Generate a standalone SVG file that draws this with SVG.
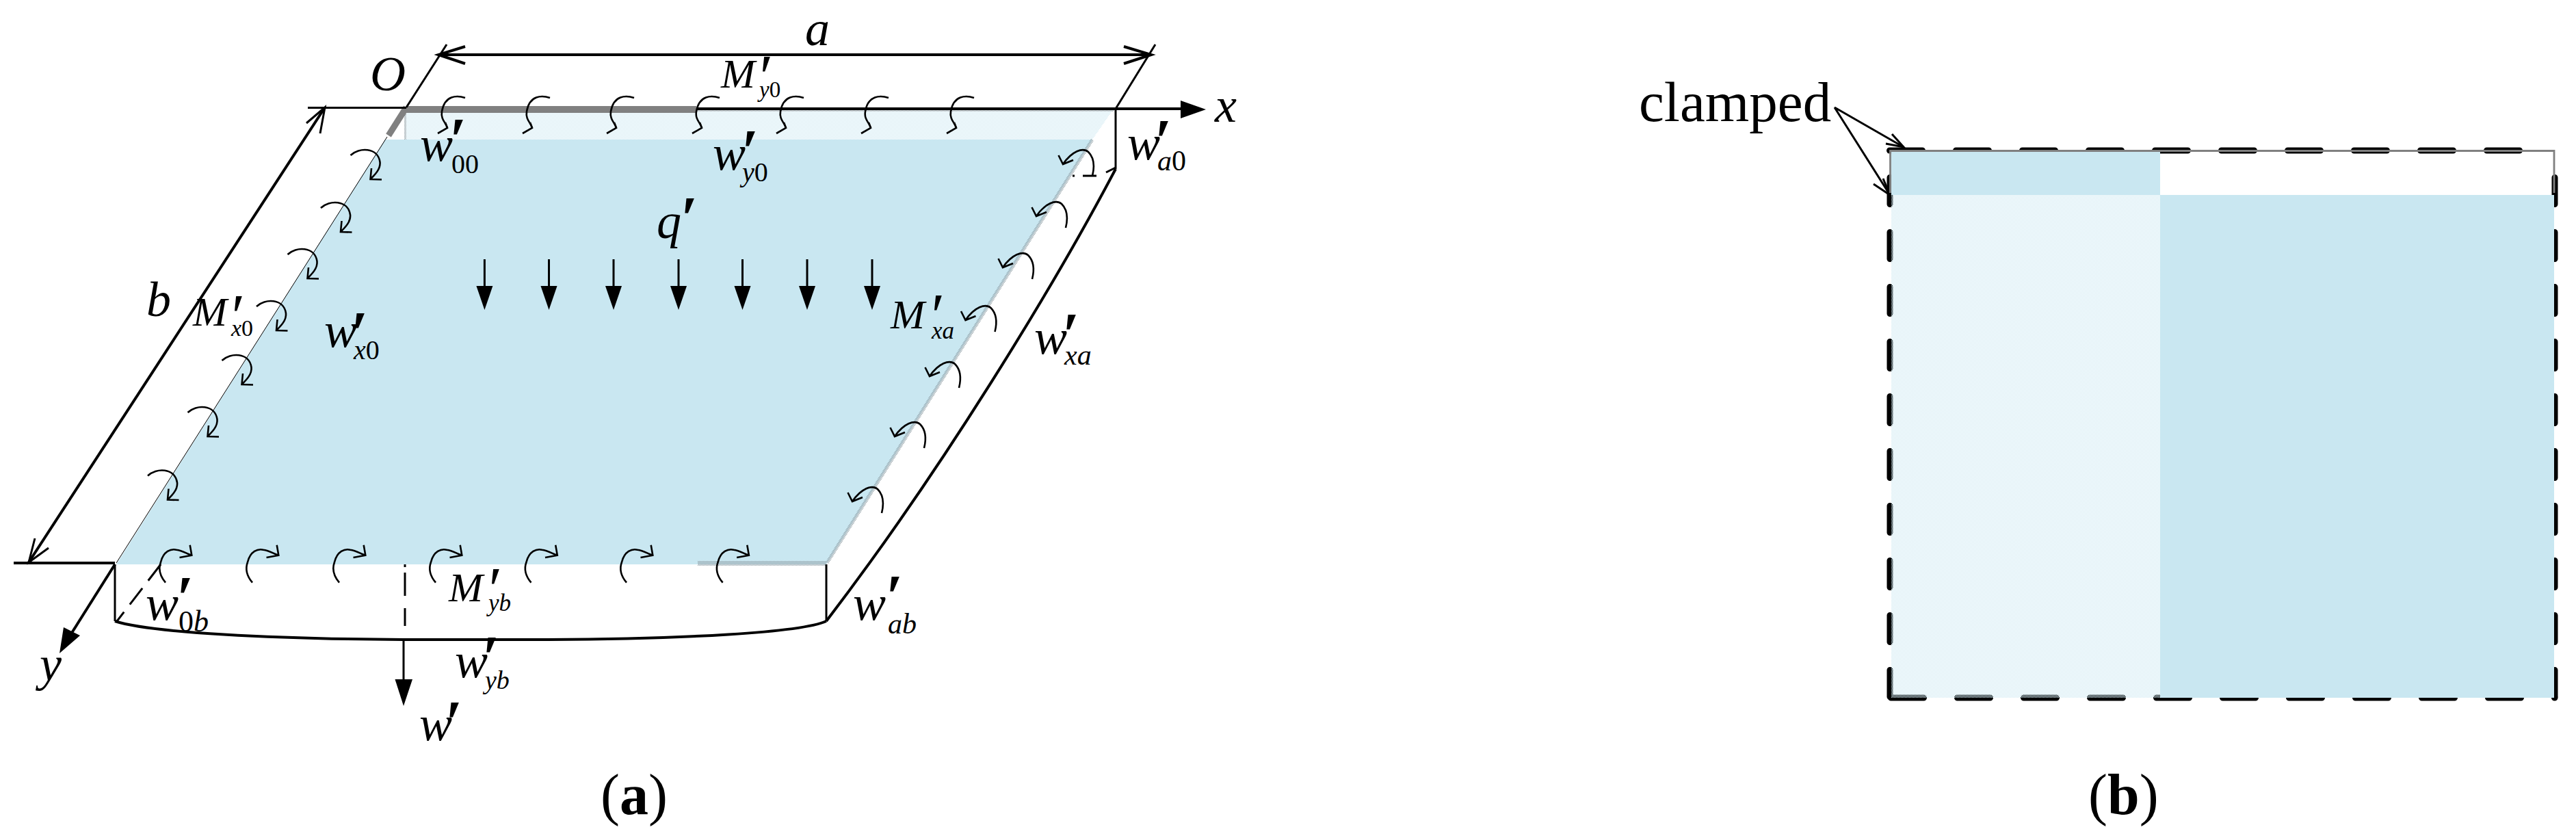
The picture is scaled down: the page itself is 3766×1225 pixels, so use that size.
<svg xmlns="http://www.w3.org/2000/svg" xmlns:xlink="http://www.w3.org/1999/xlink" width="3766" height="1225" viewBox="0 0 3766 1225">
<style>
.ln{fill:none;stroke:#000;stroke-width:4}
.th{fill:none;stroke:#000;stroke-width:3}
.m{fill:none;stroke:#000;stroke-width:2.6}
.k{fill:#000;stroke:none}
.blue{fill:#c9e7f1}
.dith{fill:url(#dB)}
.gr{fill:none;stroke:#808080}
.dash{fill:none;stroke:#000;stroke-width:9;stroke-linecap:round}
text{font-family:"Liberation Serif","Times New Roman",serif;fill:#000}
.v{font-style:italic;font-size:72px}
.M{font-style:italic;font-size:60px}
.p{font-style:italic;font-size:90px;font-weight:bold}
.pm{font-style:italic;font-size:90px}
.u{font-style:normal}
.cap{font-size:84px}
.cap .b{font-weight:bold}
</style>
<defs>
<pattern id="dB" width="2" height="2" patternUnits="userSpaceOnUse"><rect width="1" height="1" fill="#d4ecf4"/><rect x="1" y="1" width="1" height="1" fill="#d4ecf4"/></pattern>
<pattern id="dG" width="2" height="2" patternUnits="userSpaceOnUse"><rect width="1" height="1" fill="#8f9fa6"/><rect x="1" y="1" width="1" height="1" fill="#8f9fa6"/></pattern>
<g id="mT"><path class="m" d="M0 0C-12 -4 -30 -4 -34 20C-36 32 -28 36 -26 44"/><path class="m" stroke-width="3.4" d="M-29 36L-26 44L-40 52"/></g>
<g id="mL"><path class="m" d="M0 0C12 -12 40 -12 43 10C44 20 36 28 29 35M45.500 35.500L29 35L30.500 19"/></g>
<g id="mB"><path class="m" d="M0 0C-10 -12 -10 -22 -7 -30C-3 -46 8 -50 16 -48C24 -47 30 -43 38 -40M35.700 -55L38.300 -40L20.500 -36.700"/></g>
<g id="mR"><path class="m" d="M0 0C3 -12 3 -26 -6 -35C-14 -42 -30 -36 -43 -17M-49.500 -30L-43 -17L-28 -23"/></g>
<g id="load"><path class="th" d="M0 0V42"/><path class="k" d="M-12 39H12L0 74Z"/></g>
</defs>
<rect width="3766" height="1225" fill="#fff"/>

<g id="panel-a-plate">
<polygon class="dith" points="592,162 1626,162 1597,204 592,204"/>
<polygon class="blue" points="563,204 1597,204 1208,825 170,825"/>
<path d="M1597 204L1209 823" fill="none" stroke="url(#dG)" stroke-width="5"/>
<rect x="1020" y="820" width="188" height="7" fill="url(#dG)"/>
<rect x="591" y="162" width="3" height="42" fill="url(#dG)"/>
<rect x="1018" y="160" width="610" height="3" fill="url(#dG)"/>
</g>

<g id="connectors">
<path class="gr" stroke-width="10" d="M594 160H1018"/>
<path class="gr" stroke-width="9" d="M594 157L568 198"/>
<path fill="none" stroke="#000" stroke-width="1" d="M566 200L170 823"/>
<path class="th" d="M450 157.500H594"/>
<path class="ln" d="M1018 159H1728"/>
<path class="k" d="M1726 147L1763 160L1726 173Z"/>
<path class="ln" d="M641 80H1683"/>
<path class="ln" d="M680 68L641 80L680 93M1643 68L1683 80L1643 93"/>
<path class="th" d="M653 65L594 157M1689 65L1631 159"/>
<path class="th" d="M1631 159V247"/>
<path class="th" stroke-dasharray="20 12" d="M1631 245L1617 252"/>
<path class="th" stroke-dasharray="20 12" d="M1603 257H1568"/>
<path class="ln" d="M1631 247C1540 420 1375 690 1208 908"/>
<path class="th" d="M1208 825V908"/>
<path class="th" d="M168 825V908"/>
<path class="ln" d="M168 908C220 925 400 934 590 935H800C1000 934 1170 925 1208 908"/>
<path class="ln" d="M20 823H168"/>
<path class="ln" d="M168 825L105 925"/>
<path class="k" d="M87 955L93 917L117 929Z"/>
<path class="ln" d="M475 157L42 822"/>
<path class="th" d="M448 180L475 157L468 195M51 787L42 822L71 801"/>
<path class="th" stroke-dasharray="30 14" d="M235 825L171 908"/>
<path class="th" stroke-dasharray="4 8 34 18 26 14 10" d="M592 825V928"/>
<path class="th" d="M590 934V996"/>
<path class="k" d="M577.500 993H603L590 1032Z"/>
<path d="M2682 157L2783 215M2682 157L2763 285" class="th"/>
<path d="M2766 196L2783 215L2757 210M2739 269L2763 285L2753 261" class="th"/>
</g>

<g id="loads">
<use href="#load" x="708.400" y="379"/><use href="#load" x="802.500" y="379"/><use href="#load" x="897" y="379"/><use href="#load" x="992" y="379"/><use href="#load" x="1085.500" y="379"/><use href="#load" x="1180" y="379"/><use href="#load" x="1275" y="379"/>
</g>
<g id="moments-top">
<use href="#mT" x="680" y="143"/><use href="#mT" x="804" y="143"/><use href="#mT" x="927" y="143"/><use href="#mT" x="1052" y="143"/><use href="#mT" x="1175" y="143"/><use href="#mT" x="1299" y="143"/><use href="#mT" x="1424" y="143"/>
</g>
<g id="moments-left">
<use href="#mL" x="512.500" y="227"/><use href="#mL" x="469" y="304"/><use href="#mL" x="420.500" y="372"/><use href="#mL" x="375" y="448"/><use href="#mL" x="324.500" y="527"/><use href="#mL" x="274.500" y="603"/><use href="#mL" x="216" y="695.500"/>
</g>
<g id="moments-bottom">
<use href="#mB" x="242" y="851.700"/><use href="#mB" x="369" y="851.700"/><use href="#mB" x="496" y="851.700"/><use href="#mB" x="637" y="851.700"/><use href="#mB" x="776.500" y="851.700"/><use href="#mB" x="916" y="851.700"/><use href="#mB" x="1056.600" y="851.700"/>
</g>
<g id="moments-right">
<use href="#mR" x="1597" y="257"/><use href="#mR" x="1558" y="333"/><use href="#mR" x="1509" y="408"/><use href="#mR" x="1454.500" y="485"/><use href="#mR" x="1402" y="567"/><use href="#mR" x="1351" y="655"/><use href="#mR" x="1289" y="750"/>
</g>

<g id="labels-a">
<text class="v" x="1177" y="66">a</text>
<text class="v" x="541" y="132">O</text>
<text class="v" x="1776" y="178">x</text>
<text class="v" x="214" y="462">b</text>
<text class="v" x="58" y="995">y</text>
<text class="v" x="960" y="348">q<tspan class="p" x="994" y="350">′</tspan></text>
<text class="v" x="613" y="1082">w<tspan class="p" x="650" y="1087">′</tspan></text>
<text class="M" x="1054" y="128">M<tspan class="pm" x="1105" y="143">′</tspan><tspan font-size="33" x="1110" y="142">y<tspan class="u">0</tspan></tspan></text>
<text class="M" x="282" y="476">M<tspan class="pm" x="333" y="493">′</tspan><tspan font-size="34" x="338" y="491">x<tspan class="u">0</tspan></tspan></text>
<text class="M" x="1302" y="480">M<tspan class="pm" x="1356" y="492">′</tspan><tspan font-size="35" x="1362" y="495">xa</tspan></text>
<text class="M" x="656" y="879">M<tspan class="pm" x="709" y="892">′</tspan><tspan font-size="35" x="714" y="893">yb</tspan></text>
<text class="v" x="614" y="235">w<tspan class="p" x="656" y="235">′</tspan><tspan class="u" font-size="40" x="660" y="253">00</tspan></text>
<text class="v" x="1042" y="248">w<tspan class="p" x="1083" y="252">′</tspan><tspan font-size="40" x="1085" y="265">y<tspan class="u">0</tspan></tspan></text>
<text class="v" x="474" y="507">w<tspan class="p" x="512" y="518">′</tspan><tspan font-size="40" x="517" y="525">x<tspan class="u">0</tspan></tspan></text>
<text class="v" x="1512" y="517">w<tspan class="p" x="1552" y="520">′</tspan><tspan font-size="42" x="1556" y="533">xa</tspan></text>
<text class="v" x="1648" y="233">w<tspan class="p" x="1687" y="237">′</tspan><tspan font-size="42" x="1692" y="249">a<tspan class="u">0</tspan></tspan></text>
<text class="v" x="1247" y="906">w<tspan class="p" x="1294" y="903">′</tspan><tspan font-size="42" x="1298" y="926">ab</tspan></text>
<text class="v" x="213" y="906">w<tspan class="p" x="257" y="905">′</tspan><tspan font-size="44" x="261" y="923"><tspan class="u">0</tspan>b</tspan></text>
<text class="v" x="665" y="990">w<tspan class="p" x="704" y="992">′</tspan><tspan font-size="38" x="709" y="1007">yb</tspan></text>
</g>
<text id="caption-a" class="cap" x="878" y="1190">(<tspan class="b">a</tspan>)</text>

<g id="panel-b">
<path class="dash" d="M2762.500 220H3700" stroke-dasharray="48 49"/>
<path class="dash" d="M2764.500 1020H3735" stroke-dasharray="48 49"/>
<path class="dash" d="M2763 259.500V1020" stroke-dasharray="39 41"/>
<path class="dash" d="M3735 259.500V1020" stroke-dasharray="39 41"/>
<rect x="2765" y="221" width="393" height="64" class="blue"/>
<rect x="2765" y="285" width="393" height="735" class="dith"/>
<rect x="3158" y="285" width="576" height="735" class="blue"/>
<path class="gr" stroke-width="2.800" d="M2763.500 282V220.500H3734V282"/>
</g>
<text id="label-clamped" x="2396" y="177" font-size="83">clamped</text>
<text id="caption-b" class="cap" x="3053" y="1190">(<tspan class="b">b</tspan>)</text>
</svg>
